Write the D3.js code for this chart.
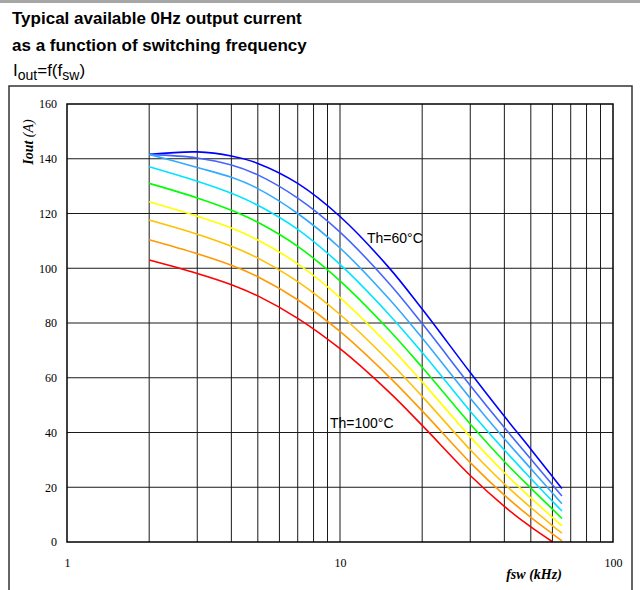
<!DOCTYPE html>
<html>
<head>
<meta charset="utf-8">
<script src="https://cdn.jsdelivr.net/npm/d3@7"></script>
<style>
  html, body { margin: 0; padding: 0; background: #fff; }
  svg { display: block; }
</style>
</head>
<body>
<svg id="chart" width="640" height="590"></svg>
<script>
// Switching frequency sample points (kHz)
const freqs = [2, 3, 4, 5, 7, 10, 15, 20, 30, 40, 50, 60, 65];

// Available output current (A) per heatsink temperature
const th60  = [141.6, 142.5, 141.0, 138.3, 131.0, 118.9, 100.6, 85.1, 61.9, 45.9, 33.9, 23.9, 19.5];
const th65  = [141.6, 140.3, 137.7, 134.1, 125.6, 113.2,  94.9, 79.8, 57.2, 41.8, 30.3, 20.9, 16.8];
const th70  = [141.6, 136.8, 133.2, 129.1, 120.0, 107.4,  89.2, 74.5, 52.5, 37.7, 26.8, 17.9, 14.0];
const th75  = [137.1, 131.8, 127.4, 123.0, 114.2, 101.4,  83.5, 69.2, 47.8, 33.6, 23.2, 14.9, 11.3];
const th80  = [131.0, 125.7, 121.2, 116.8, 108.0,  95.4,  77.8, 63.8, 43.1, 29.4, 19.7, 12.0,  8.6];
const th85  = [124.3, 119.0, 114.7, 110.3, 101.6,  89.3,  72.1, 58.5, 38.4, 25.3, 16.1,  9.0,  5.9];
const th90  = [117.6, 112.4, 108.0, 103.7,  95.1,  83.1,  66.4, 53.2, 33.7, 21.2, 12.6,  6.0,  3.2];
const th95  = [110.4, 105.3, 101.1,  96.9,  88.5,  76.9,  60.7, 47.9, 29.0, 17.1,  9.0,  3.0,  0.4];
const th100 = [103.0,  98.1,  94.0,  89.9,  81.7,  70.6,  55.1, 42.6, 24.3, 13.0,  5.5,  0.1, null];

const seriesValues = [th60, th65, th70, th75, th80, th85, th90, th95, th100];
const seriesColors = ["#0000ff", "#4466ff", "#33aaff", "#00e5ff", "#00ff00",
                      "#ffff00", "#ffc000", "#ff9900", "#ff0000"];

// Axis ticks and grid positions
const yTicks = [0, 20, 40, 60, 80, 100, 120, 140, 160];
const xTickLabels = [1, 10, 100];
const xGrid = [2, 3, 4, 5, 6, 7, 8, 9, 20, 30, 40, 50, 60, 70, 80, 90];
const yGrid = [20, 40, 60, 80, 100, 120, 140];

const svg = d3.select("#chart");

// Header rule and outer frame
svg.append("rect").attr("x", 0).attr("y", 0).attr("width", 640).attr("height", 3)
  .attr("fill", "#a6a6a6");
svg.append("rect").attr("x", 9).attr("y", 86).attr("width", 623).attr("height", 520)
  .attr("fill", "none").attr("stroke", "#333").attr("stroke-width", 1.5);

// Title block
const sans = "Arial, 'Liberation Sans', sans-serif";
const title = svg.append("g").attr("font-family", sans);
title.append("text").attr("x", 12).attr("y", 24).attr("font-size", 17).attr("font-weight", "bold")
  .text("Typical available 0Hz output current");
title.append("text").attr("x", 12).attr("y", 50.5).attr("font-size", 17).attr("font-weight", "bold")
  .text("as a function of switching frequency");
const sub = title.append("text").attr("x", 13).attr("y", 76).attr("font-size", 17);
sub.append("tspan").text("I");
sub.append("tspan").attr("font-size", 14).attr("dy", 3.5).text("out");
sub.append("tspan").attr("dy", -3.5).text("=f(f");
sub.append("tspan").attr("font-size", 14).attr("dy", 3.5).text("sw");
sub.append("tspan").attr("dy", -3.5).text(")");

// Scales
const x = d3.scaleLog().domain([1, 100]).range([67, 613]);
const y = d3.scaleLinear().domain([0, 160]).range([542, 104]);

// Grid
const grid = svg.append("g").attr("stroke", "#1a1a1a").attr("stroke-width", 1);
grid.selectAll("line.v").data(xGrid).join("line").attr("class", "v")
  .attr("x1", d => x(d)).attr("x2", d => x(d)).attr("y1", y(0)).attr("y2", y(160));
grid.selectAll("line.h").data(yGrid).join("line").attr("class", "h")
  .attr("x1", x(1)).attr("x2", x(100)).attr("y1", d => y(d)).attr("y2", d => y(d));
grid.append("line").attr("x1", x(10)).attr("x2", x(10)).attr("y1", y(0)).attr("y2", y(160));

// Curves
const line = d3.line()
  .defined(d => d[1] !== null)
  .x(d => x(d[0]))
  .y(d => y(d[1]))
  .curve(d3.curveCatmullRom.alpha(0.5));

svg.append("g").selectAll("path").data(seriesValues).join("path")
  .attr("d", vals => line(freqs.map((f, i) => [f, vals[i]])))
  .attr("fill", "none")
  .attr("stroke", (d, i) => seriesColors[i])
  .attr("stroke-width", 1.6);

// Plot border
svg.append("rect").attr("x", x(1)).attr("y", y(160))
  .attr("width", x(100) - x(1)).attr("height", y(0) - y(160))
  .attr("fill", "none").attr("stroke", "#000").attr("stroke-width", 1.5);

// Axes
const serif = "'Liberation Serif', 'Times New Roman', serif";
const yAxis = svg.append("g").attr("transform", `translate(${x(1)},0)`)
  .call(d3.axisLeft(y).tickValues(yTicks).tickSize(0).tickPadding(10));
yAxis.select(".domain").remove();
yAxis.selectAll("text").attr("font-family", serif).attr("font-size", 12).attr("fill", "#000");

const xAxis = svg.append("g").attr("transform", `translate(0,${y(0)})`)
  .call(d3.axisBottom(x).tickValues(xTickLabels).tickFormat(d3.format("d")).tickSize(0).tickPadding(16));
xAxis.select(".domain").remove();
xAxis.selectAll("text").attr("font-family", serif).attr("font-size", 12).attr("fill", "#000");

// Axis titles
const yTitle = svg.append("text").attr("transform", "translate(33,142) rotate(-90)")
  .attr("text-anchor", "middle").attr("font-family", serif).attr("font-size", 14).attr("font-style", "italic");
yTitle.append("tspan").attr("font-weight", "bold").text("Iout");
yTitle.append("tspan").text(" (A)");

svg.append("text").attr("x", 534).attr("y", 579).attr("text-anchor", "middle")
  .attr("font-family", serif).attr("font-size", 14).attr("font-style", "italic").attr("font-weight", "bold")
  .text("fsw (kHz)");

// Curve annotations
const ann = svg.append("g").attr("font-family", sans).attr("font-size", 14);
ann.append("text").attr("x", 367).attr("y", 243).text("Th=60°C");
ann.append("text").attr("x", 330).attr("y", 428).text("Th=100°C");
</script>
</body>
</html>
